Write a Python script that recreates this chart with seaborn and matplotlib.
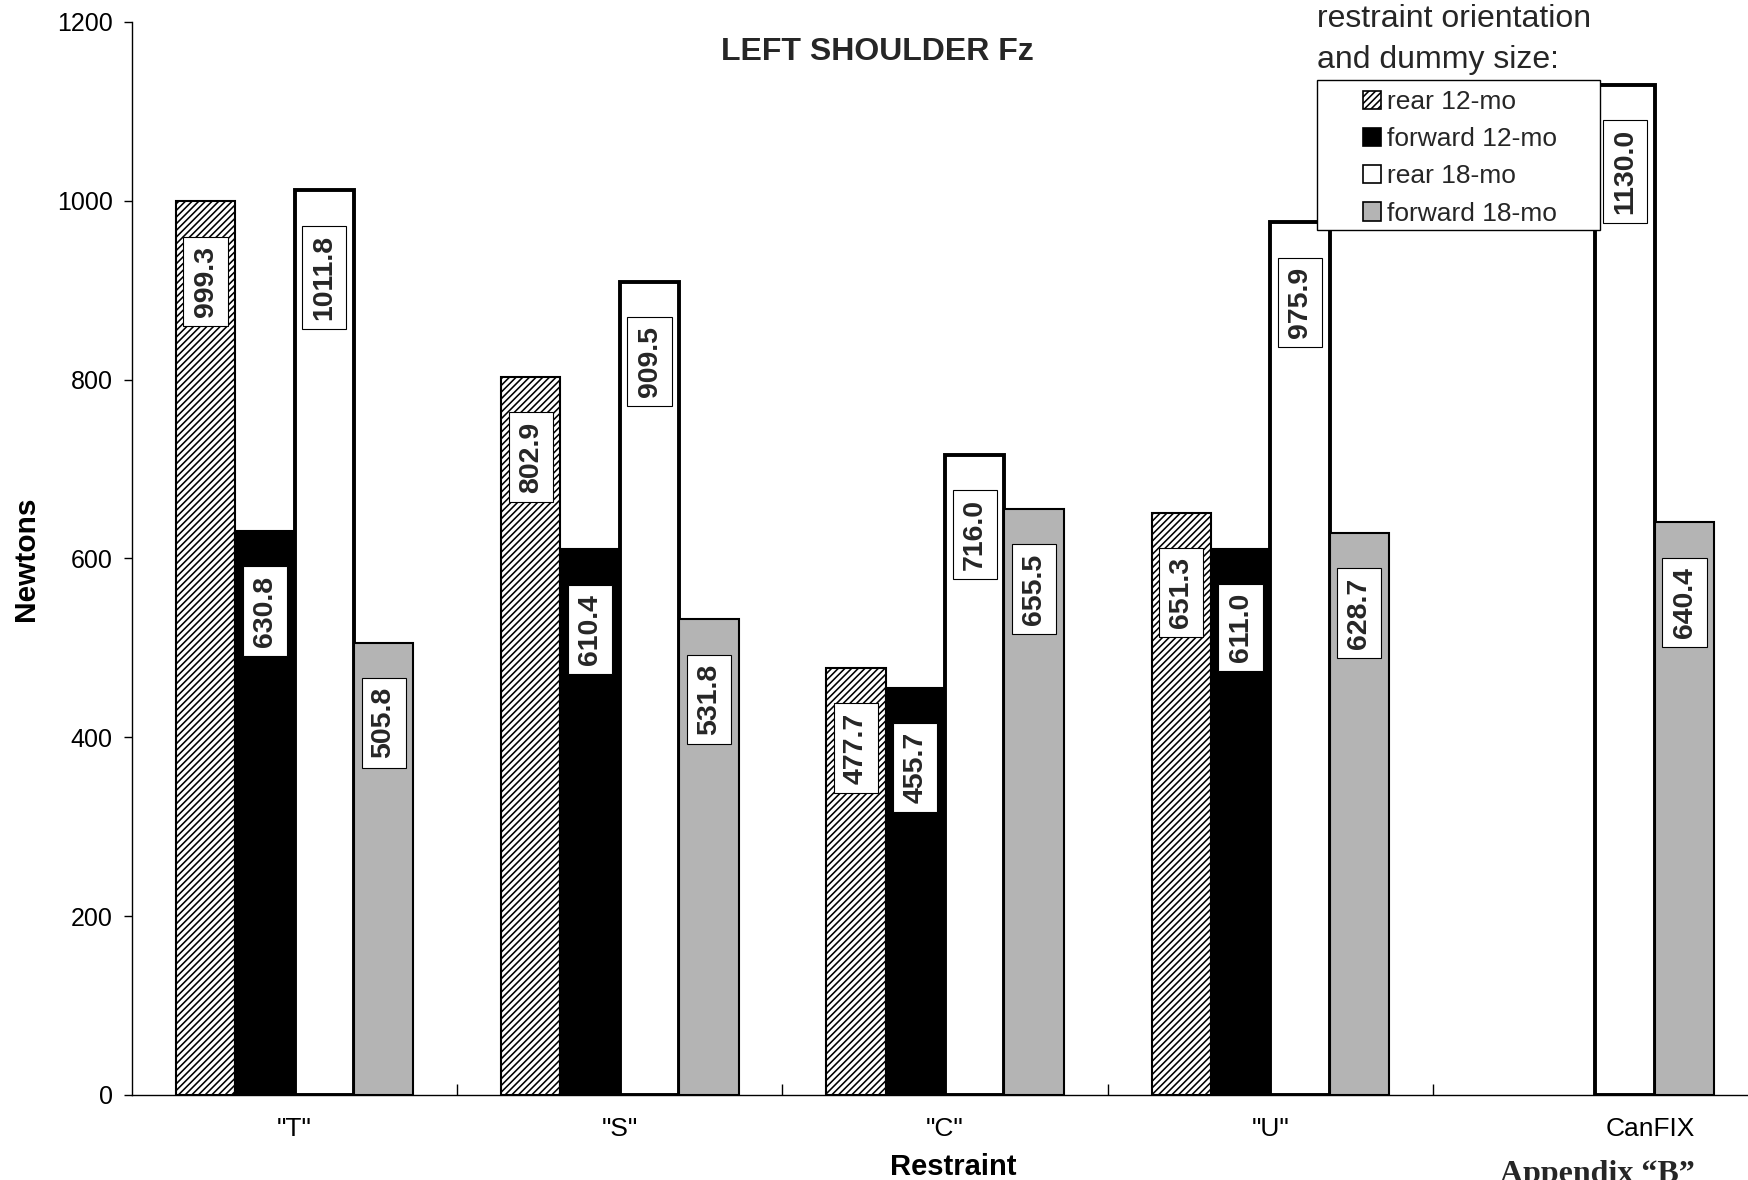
import numpy as np
import pandas as pd
import matplotlib
matplotlib.use("Agg")
import matplotlib.pyplot as plt
import seaborn as sns
from matplotlib.patches import Patch, Rectangle

# ---- data ----
restraints = ['"T"', '"S"', '"C"', '"U"', 'CanFIX']
series = ['rear 12-mo', 'forward 12-mo', 'rear 18-mo', 'forward 18-mo']
rear_12 = [999.3, 802.9, 477.7, 651.3, np.nan]
forward_12 = [630.8, 610.4, 455.7, 611.0, np.nan]
rear_18 = [1011.8, 909.5, 716.0, 975.9, 1130.0]
forward_18 = [505.8, 531.8, 655.5, 628.7, 640.4]
yticks = [0, 200, 400, 600, 800, 1000, 1200]

sns.set_theme(style="ticks")
plt.rcParams["font.family"] = ["Liberation Sans", "DejaVu Sans"]
plt.rcParams["hatch.linewidth"] = 1.15

df = pd.DataFrame({
    "Restraint": restraints * 4,
    "Newtons": rear_12 + forward_12 + rear_18 + forward_18,
    "series": np.repeat(series, len(restraints)),
})

W, H = 1749, 1180
fig = plt.figure(figsize=(W / 100, H / 100), dpi=100)
ax = fig.add_axes([132 / W, 1 - 1095 / H, 1 - 132 / W, (1095 - 22) / H])

sns.barplot(data=df, x="Restraint", y="Newtons", hue="series",
            hue_order=series, order=restraints, width=0.73,
            errorbar=None, saturation=1, legend=False, ax=ax)

styles = [
    dict(facecolor="white", edgecolor="black", hatch="/////", linewidth=1.5),
    dict(facecolor="black", edgecolor="black", linewidth=1.5),
    dict(facecolor="white", edgecolor="black", linewidth=2.8),
    dict(facecolor="#b4b4b4", edgecolor="black", linewidth=1.5),
]
for cont, st in zip(ax.containers, styles):
    for p in cont:
        p.set(**st)
        h = p.get_height()
        if not np.isfinite(h) or h == 0:
            continue
        ax.annotate(f"{h:.1f}", xy=(p.get_x() + p.get_width() / 2, h),
                    xytext=(0, -32), textcoords="offset points",
                    rotation=90, ha="center", va="top",
                    fontsize=20.5, fontweight="bold", zorder=6,
                    bbox=dict(boxstyle="square,pad=0.32", fc="white",
                              ec="black", lw=0.8))

ax.set_xlim(-0.5, 4.472)
ax.set_ylim(0, 1200)
ax.set_yticks(yticks)
ax.set_xticks([0, 1, 2, 3, 4.17])
ax.set_xticklabels(restraints)
ax.set_xticks([0.5, 1.5, 2.5, 3.5], minor=True)
ax.tick_params(axis="y", direction="out", length=6, width=1, pad=8,
               labelsize=18, colors="black")
ax.tick_params(axis="x", which="major", length=0, pad=16, labelsize=19,
               colors="black")
ax.tick_params(axis="x", which="minor", direction="in", length=8, width=1,
               bottom=True, colors="black")
for s in ["top", "right"]:
    ax.spines[s].set_visible(False)
for s in ["left", "bottom"]:
    ax.spines[s].set_color("black")
    ax.spines[s].set_linewidth(1)

ax.set_xlabel("Restraint", fontsize=21, fontweight="bold", color="black")
ax.xaxis.set_label_coords(0.508, -0.054)
ax.set_ylabel("Newtons", fontsize=21.5, fontweight="bold", labelpad=12,
              color="black")

fig.text(877 / W, 1 - 52 / H, "LEFT SHOULDER Fz", ha="center", va="center",
         fontsize=23, fontweight="bold")

# legend
fig.text(1317 / W, 1 - 4 / H, "restraint orientation\nand dummy size:",
         ha="left", va="top", fontsize=23, linespacing=1.48)
fig.patches.append(Rectangle((1317 / W, 1 - 230 / H), 283 / W, 150 / H,
                             transform=fig.transFigure, fc="white",
                             ec="black", lw=1, zorder=3))
handles = [Patch(**{**st, "linewidth": 1.2}, label=lab)
           for st, lab in zip(styles, series)]
fig.legend(handles=handles, loc="upper left",
           bbox_to_anchor=(1363 / W, 1 - 90 / H), frameon=False,
           fontsize=19, borderpad=0, borderaxespad=0, handlelength=0.7,
           handleheight=0.7, handletextpad=0.2, labelspacing=0.5)

fig.text(1597 / W, 1 - 1160 / H, "Appendix \u201cB\u201d", ha="center",
         va="top", family="Liberation Serif", fontweight="bold", fontsize=23)

fig.savefig("out.png", dpi=100)
